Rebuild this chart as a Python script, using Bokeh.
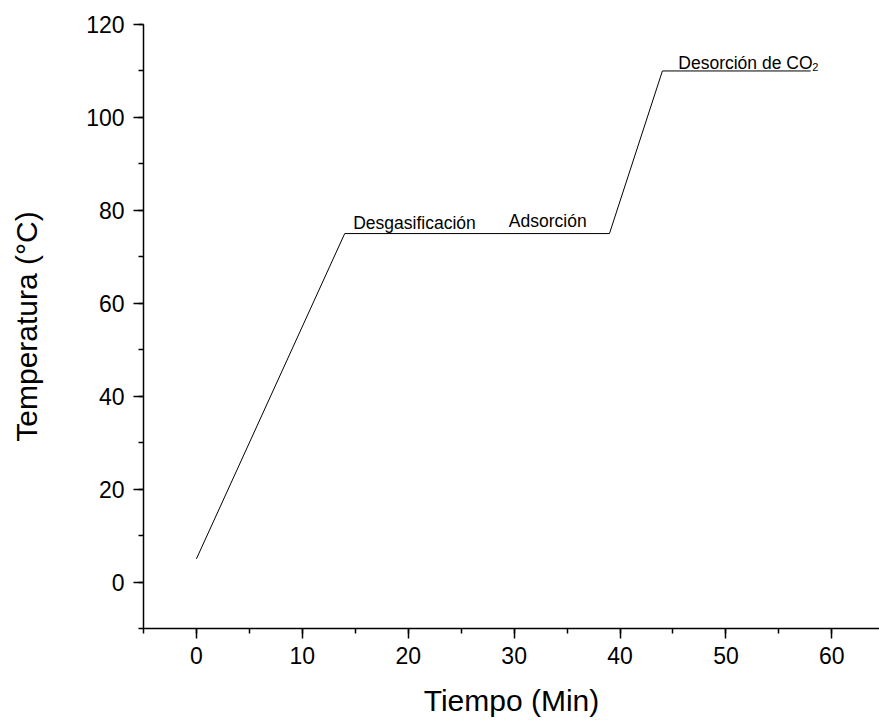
from bokeh.plotting import figure
from bokeh.models import Range1d, SingleIntervalTicker, ColumnDataSource
from bokeh.core.properties import value
from bokeh.embed import file_html
from bokeh.resources import INLINE

# Temperature program of the run (time in minutes, temperature in °C)
tiempo = [0, 14, 39, 44, 58]
temperatura = [5, 75, 75, 110, 110]

# Stage annotations: label, anchor time, anchor temperature
etapas = ["Desgasificación", "Adsorción", "Desorción de CO"]
etapa_x = [14.8, 29.5, 45.5]
etapa_y = [77.2, 77.6, 111.8]

FONT = "Liberation Sans"

p = figure(
    width=879, height=724,
    output_backend="svg", toolbar_location=None,
    x_range=Range1d(-5, 64.5), y_range=Range1d(-10, 120),
    min_border_left=143, min_border_right=0,
    min_border_top=24, min_border_bottom=96,
)
p.outline_line_color = None
p.xgrid.visible = False
p.ygrid.visible = False
p.background_fill_color = "white"
p.border_fill_color = "white"

p.line(tiempo, temperatura, line_color="black", line_width=1)

src = ColumnDataSource(dict(x=etapa_x, y=etapa_y, t=etapas))
p.text("x", "y", text="t", source=src,
       text_font=value(FONT), text_font_size="17.5px",
       text_color="black", text_baseline="alphabetic", text_align="left")

# subscript "2" of CO2, placed after the last label
p.text(x=[etapa_x[2]], y=[etapa_y[2]], text=["2"],
       x_offset=134, y_offset=4,
       text_font=value(FONT), text_font_size="11px",
       text_color="black", text_baseline="alphabetic", text_align="left")

p.xaxis.ticker = SingleIntervalTicker(interval=10, num_minor_ticks=2)
p.yaxis.ticker = SingleIntervalTicker(interval=20, num_minor_ticks=2)

for ax in (p.xaxis[0], p.yaxis[0]):
    ax.axis_line_width = 1.5
    ax.axis_line_color = "black"
    ax.major_tick_line_width = 1.5
    ax.minor_tick_line_width = 1.5
    ax.major_tick_line_color = "black"
    ax.minor_tick_line_color = "black"
    ax.major_tick_in = 0
    ax.major_tick_out = 10
    ax.minor_tick_in = 0
    ax.minor_tick_out = 5
    ax.major_label_text_font = FONT
    ax.major_label_text_font_size = "23px"
    ax.major_label_text_color = "black"
    ax.axis_label_text_font = FONT
    ax.axis_label_text_font_size = "30px"
    ax.axis_label_text_font_style = "normal"
    ax.axis_label_text_color = "black"

p.xaxis.axis_label = "Tiempo (Min)"
p.yaxis.axis_label = "Temperatura (°C)"
p.xaxis.major_label_standoff = 8
p.yaxis.major_label_standoff = 9
p.xaxis.axis_label_standoff = 17
p.yaxis.axis_label_standoff = 40

open("out.html", "w").write(file_html(p, INLINE))
